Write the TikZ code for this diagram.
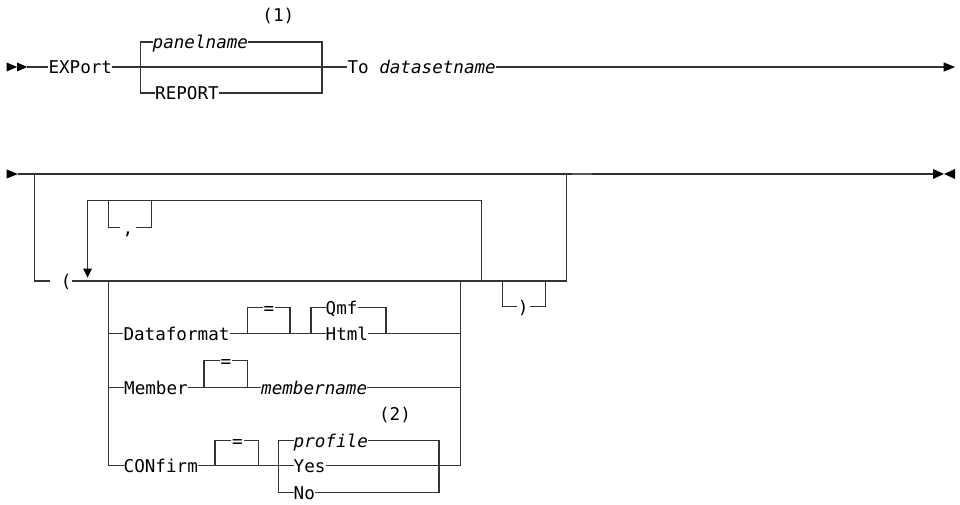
\documentclass[tikz,border=0pt]{standalone}
\usepackage{fontspec}
\setmainfont{DejaVu Sans Mono}
\newcommand\fsz{\fontsize{17.6pt}{20pt}\selectfont}
\tikzset{
  t/.style={inner sep=0pt, anchor=west, text height=17.4pt, text depth=4pt, font=\fsz},
  tc/.style={t, anchor=center},
  note/.style={inner sep=0pt, font=\fsz},
  ln/.style={draw=black!80, line width=1.3pt},
  tip/.style={fill=black},
}
\begin{document}
\begin{tikzpicture}[x=1pt,y=-1pt]
\useasboundingbox (0,0) rectangle (960,505);
% ---------------- Row 1 ----------------
\fill[tip] (6.7,62.5) -- (17,67) -- (6.7,71.5) -- cycle;
\fill[tip] (17,62.5) -- (27.3,67) -- (17,71.5) -- cycle;
\coordinate (s1) at (27,67);
\node[t] (export) at (48.3,67) {EXPort};
\node[t] (panel) at (152.5,42) {\textit{panelname}};
\node[t] (report) at (155,93) {REPORT};
\node[note] (n1) at (278.3,15.8) {(1)};
\node[t] (to) at (347.3,67) {To \textit{datasetname}};
\coordinate (b1tl) at (140.5,42);
\coordinate (b1bl) at (140.5,93);
\coordinate (b1tr) at (322,42);
\coordinate (b1br) at (322,93);
\coordinate (e1) at (944,67);
\draw[ln] (s1) -- (export.west);
\draw[ln] (export.east) -- (to.west);
\draw[ln] (panel.west) -- (b1tl) -- (b1bl) -- (report.west);
\draw[ln] (panel.east) -- (b1tr) -- (b1br) -- (report.east);
\draw[ln] (to.east) -- (e1);
\fill[tip] (943.5,62.3) -- (955,67) -- (943.5,71.7) -- cycle;
% ---------------- Row 2 ----------------
\fill[tip] (6.7,169.5) -- (18,174) -- (6.7,178.5) -- cycle;
\coordinate (s2) at (18,174);
\coordinate (e2) at (933,174);
\draw[ln] (s2) -- (e2);
\fill[tip] (933,169) -- (944,174) -- (933,179) -- cycle;
\fill[tip] (955,169) -- (944,174) -- (955,179) -- cycle;
\draw[draw=black!65, line width=2pt] (572,173.6) -- (592,173.6);
% optional outer
\coordinate (otl) at (34.3,174);
\coordinate (obl) at (34.3,281);
\coordinate (otr) at (566.7,174);
\coordinate (obr) at (566.7,281);
\node[t] (lp) at (50,281) {\phantom{(}(};
\draw[ln] (otl) -- (obl) -- (lp.west);
\draw[ln] (lp.east) -- (obr) -- (otr);
% repeat
\coordinate (rtl) at (87.5,200.7);
\coordinate (rtr) at (481.7,200.7);
\coordinate (rbr) at (481.7,281);
\coordinate (rarr) at (87.5,269);
\draw[ln] (rbr) -- (rtr) -- (rtl) -- (rarr);
\fill[tip] (83,268.5) -- (92,268.5) -- (87.5,277.5) -- cycle;
% comma
\coordinate (ctl) at (108.5,200.7);
\coordinate (cbl) at (108.5,227.3);
\coordinate (ctr) at (151.7,200.7);
\coordinate (cbr) at (151.7,227.3);
\node[tc, inner xsep=2.3pt] (comma) at (127.8,227.3) {,};
\draw[ln] (ctl) -- (cbl) -- (comma.west);
\draw[ln] (comma.east) -- (cbr) -- (ctr);
% close paren
\coordinate (ptl) at (502.7,281);
\coordinate (pbl) at (502.7,306.7);
\coordinate (ptr) at (545.7,281);
\coordinate (pbr) at (545.7,306.7);
\node[tc, inner xsep=0.9pt] (rp) at (523.2,306.7) {)};
\draw[ln] (ptl) -- (pbl) -- (rp.west);
\draw[ln] (rp.east) -- (pbr) -- (ptr);
% choice verticals
\coordinate (chl) at (108.7,281);
\coordinate (chr) at (460.7,281);
\coordinate (dfl) at (108.7,333.3);
\coordinate (mbl) at (108.7,387.3);
\coordinate (cfl) at (108.7,465.7);
\coordinate (dfr) at (460.7,333.3);
\coordinate (mbr) at (460.7,387.3);
\coordinate (cfr) at (460.7,465.7);
\draw[ln] (chl) -- (cfl);
\draw[ln] (chr) -- (cfr);
% Dataformat
\node[t] (df) at (123.3,333.3) {Dataformat};
\node[t] (qmf) at (325.5,307.3) {Qmf};
\node[t] (html) at (325.5,333.3) {Html};
\node[tc, inner xsep=0.7pt] (deq) at (269,307.3) {=};
\coordinate (deql) at (247.3,333.3);
\coordinate (deqtl) at (247.3,307.3);
\coordinate (deqr) at (290,333.3);
\coordinate (deqtr) at (290,307.3);
\coordinate (qtl) at (311,307.3);
\coordinate (qbl) at (311,333.3);
\coordinate (qtr) at (386,307.3);
\coordinate (qbr) at (386,333.3);
\draw[ln] (dfl) -- (df.west);
\draw[ln] (df.east) -- (html.west);
\draw[ln] (deql) -- (deqtl) -- (deq.west);
\draw[ln] (deq.east) -- (deqtr) -- (deqr);
\draw[ln] (qbl) -- (qtl) -- (qmf.west);
\draw[ln] (qmf.east) -- (qtr) -- (qbr);
\draw[ln] (html.east) -- (dfr);
% Member
\node[t] (mb) at (124,387.3) {Member};
\node[t] (mbn) at (261,387.3) {\textit{membername}};
\node[tc, inner xsep=0.8pt] (meq) at (226,360.7) {=};
\coordinate (meql) at (204,387.3);
\coordinate (meqtl) at (204,360.7);
\coordinate (meqr) at (247.3,387.3);
\coordinate (meqtr) at (247.3,360.7);
\draw[ln] (mbl) -- (mb.west);
\draw[ln] (mb.east) -- (mbn.west);
\draw[ln] (mbn.east) -- (mbr);
\draw[ln] (meql) -- (meqtl) -- (meq.west);
\draw[ln] (meq.east) -- (meqtr) -- (meqr);
% CONfirm
\node[t] (cf) at (123.5,465.7) {CONfirm};
\node[t] (prof) at (293.5,440.7) {\textit{profile}};
\node[t] (yes) at (293.5,465.7) {Yes};
\node[t] (no) at (293.5,492.7) {No};
\node[note] (n2) at (395,414.5) {(2)};
\node[tc, inner xsep=1pt] (ceq) at (237.5,440.7) {=};
\coordinate (ceql) at (215,465.7);
\coordinate (ceqtl) at (215,440.7);
\coordinate (ceqr) at (258.3,465.7);
\coordinate (ceqtr) at (258.3,440.7);
\coordinate (ytl) at (278.7,440.7);
\coordinate (ybl) at (278.7,492.7);
\coordinate (ytr) at (439,440.7);
\coordinate (ybr) at (439,492.7);
\draw[ln] (cfl) -- (cf.west);
\draw[ln] (cf.east) -- (yes.west);
\draw[ln] (ceql) -- (ceqtl) -- (ceq.west);
\draw[ln] (ceq.east) -- (ceqtr) -- (ceqr);
\draw[ln] (prof.west) -- (ytl) -- (ybl) -- (no.west);
\draw[ln] (prof.east) -- (ytr) -- (ybr) -- (no.east);
\draw[ln] (yes.east) -- (cfr);
\end{tikzpicture}
\end{document}
